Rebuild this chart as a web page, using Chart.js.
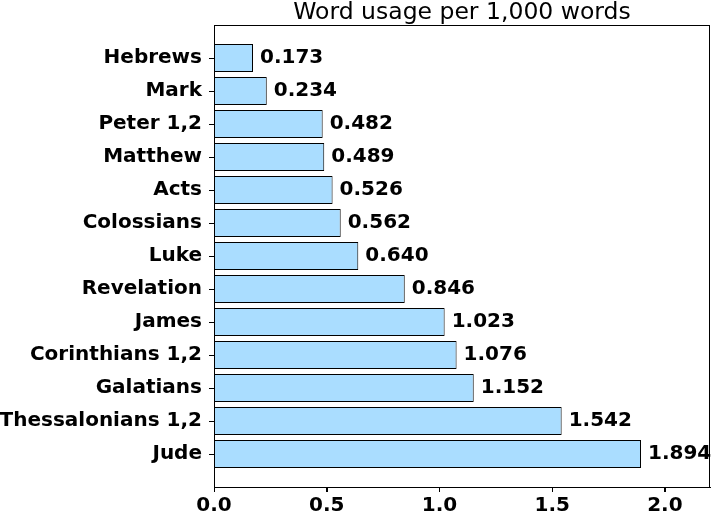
<!DOCTYPE html>
<html>
<head>
<meta charset="utf-8">
<script src="https://cdn.jsdelivr.net/npm/chart.js@4/dist/chart.umd.min.js"></script>
<style>
  html, body { margin: 0; padding: 0; background: #fff; }
  #wrap { width: 711px; height: 517px; position: relative; }
</style>
</head>
<body>
<div id="wrap"><canvas id="grafico"></canvas></div>
<script>
// Dados do gráfico
const livros = ['Hebrews', 'Mark', 'Peter 1,2', 'Matthew', 'Acts', 'Colossians', 'Luke',
  'Revelation', 'James', 'Corinthians 1,2', 'Galatians', 'Thessalonians 1,2', 'Jude'];
const valores = [0.173, 0.234, 0.482, 0.489, 0.526, 0.562, 0.640, 0.846, 1.023, 1.076, 1.152, 1.542, 1.894];
const ticksX = [0, 0.5, 1.0, 1.5, 2.0];
const titulo = 'Word usage per 1,000 words';

const fonteBold = { family: 'DejaVu Sans', size: 20, weight: 'bold' };

// moldura, marcas dos eixos, título e rótulos dos valores
const extras = {
  id: 'extras',
  afterDatasetsDraw(chart) {
    const { ctx, chartArea: a, scales } = chart;
    ctx.save();
    ctx.strokeStyle = '#000';
    ctx.lineWidth = 1;
    ctx.strokeRect(Math.round(a.left) + 0.5, Math.round(a.top) + 0.5,
      Math.round(a.right - a.left) - 1, Math.round(a.bottom - a.top));

    // marcas (ticks) para fora da área
    ctx.beginPath();
    scales.y.ticks.forEach(t => {
      const py = Math.round(scales.y.getPixelForValue(t.value)) + 0.5;
      ctx.moveTo(a.left - 5, py);
      ctx.lineTo(a.left, py);
    });
    scales.x.ticks.forEach(t => {
      const px = Math.round(scales.x.getPixelForValue(t.value)) + 0.5;
      ctx.moveTo(px, a.bottom);
      ctx.lineTo(px, a.bottom + 5);
    });
    ctx.stroke();

    ctx.fillStyle = '#000';
    ctx.font = 'bold 20px "DejaVu Sans"';
    ctx.textAlign = 'left';
    ctx.textBaseline = 'middle';
    chart.getDatasetMeta(0).data.forEach((bar, i) => {
      ctx.fillText(valores[i].toFixed(3), bar.x + 7, bar.y);
    });

    ctx.font = '23.5px "DejaVu Sans"';
    ctx.textAlign = 'center';
    ctx.textBaseline = 'alphabetic';
    ctx.fillText(titulo, (a.left + a.right) / 2, a.top - 6);
    ctx.restore();
  }
};

const ctx = document.getElementById('grafico').getContext('2d');
const grafico = new Chart(ctx, {
  type: 'bar',
  data: {
    datasets: [{
      data: valores.map((v, i) => ({ x: v, y: i })),
      backgroundColor: '#aaddff',
      borderColor: '#000',
      borderWidth: 1,
      barPercentage: 28 / 33,
      categoryPercentage: 1
    }]
  },
  options: {
    indexAxis: 'y',
    responsive: true,
    maintainAspectRatio: false,
    animation: false,
    layout: { padding: { top: 25, right: 1, left: 0, bottom: 0 } },
    plugins: { legend: { display: false }, tooltip: { enabled: false } },
    scales: {
      x: {
        type: 'linear',
        min: 0,
        max: 2.2,
        afterBuildTicks: axis => { axis.ticks = ticksX.map(v => ({ value: v })); },
        afterFit: axis => { axis.height = 30; },
        grid: { drawOnChartArea: false, drawTicks: true, tickLength: 5, color: '#000' },
        border: { display: true, color: '#000' },
        ticks: {
          color: '#000',
          font: fonteBold,
          padding: 2,
          maxRotation: 0,
          callback: v => v.toFixed(1)
        }
      },
      y: {
        type: 'linear',
        reverse: true,
        offset: false,
        min: -1,
        max: 13,
        afterBuildTicks: axis => { axis.ticks = livros.map((_, i) => ({ value: i })); },
        afterFit: axis => { axis.width = 214; },
        grid: { offset: false, drawOnChartArea: false, drawTicks: true, tickLength: 5, color: '#000' },
        border: { display: true, color: '#000' },
        ticks: {
          color: '#000',
          font: fonteBold,
          padding: 7,
          autoSkip: false,
          callback: v => livros[v]
        }
      }
    }
  },
  plugins: [extras]
});
</script>
</body>
</html>
